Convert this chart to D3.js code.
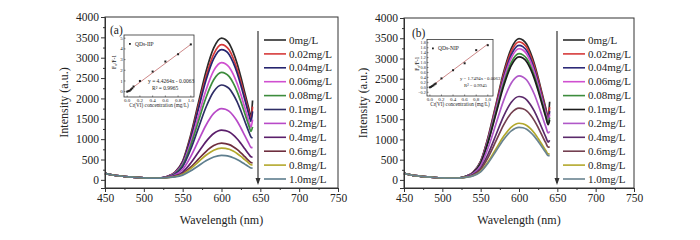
<!DOCTYPE html>
<html><head><meta charset="utf-8">
<script src="https://cdn.jsdelivr.net/npm/d3@7"></script>
<style>
body{margin:0;background:#fff;}
text{font-family:"Liberation Serif","Times New Roman",serif;fill:#222;}
</style></head>
<body><svg id="c" width="700" height="240"></svg>
<script>
// ---------- data ----------
const wavelengths = [450,460,470,480,490,500,510,520,530,540,550,560,570,580,590,600,605,610,615,620,625,630,635,638,640];
const concLabels = ["0mg/L","0.02mg/L","0.04mg/L","0.06mg/L","0.08mg/L","0.1mg/L","0.2mg/L","0.4mg/L","0.6mg/L","0.8mg/L","1.0mg/L"];
const xTicks = [450,500,550,600,650,700,750];
const yTicks = [0,500,1000,1500,2000,2500,3000,3500,4000];

const seriesA = [
 [160,120,95,75,60,50,45,45,84,187,462,1079,1868,2657,3240,3480,3446,3343,3137,2863,2520,2142,1765,1559,1950],
 [160,120,95,75,60,50,45,45,83,181,442,1031,1783,2535,3091,3320,3287,3189,2993,2731,2404,2045,1685,1489,1800],
 [160,120,95,75,60,50,45,45,82,176,428,995,1720,2444,2980,3200,3169,3074,2885,2633,2318,1972,1625,1436,1680],
 [160,120,95,75,60,50,45,45,78,163,390,899,1550,2201,2682,2880,2852,2767,2597,2371,2088,1776,1465,1295,1480],
 [160,120,95,75,60,50,45,45,76,154,361,827,1423,2018,2459,2640,2614,2536,2381,2174,1915,1630,1345,1190,1300],
 [160,120,95,75,60,50,45,45,73,141,324,734,1258,1783,2170,2330,2307,2239,2102,1920,1692,1441,1190,1053,1030],
 [160,120,95,75,60,50,45,45,67,118,254,560,951,1342,1631,1750,1733,1682,1580,1444,1274,1087,900,798,790],
 [160,120,95,75,60,50,45,45,62,97,190,401,670,939,1138,1220,1208,1173,1103,1009,892,764,635,565,555],
 [160,120,95,75,60,50,45,45,59,84,152,305,501,696,841,900,892,866,815,747,662,569,475,424,415],
 [160,120,95,75,60,50,45,45,57,79,138,269,437,605,729,780,773,751,707,649,576,495,415,371,365],
 [160,120,95,75,60,50,45,45,56,72,116,215,342,468,562,600,595,578,545,501,446,386,325,292,288]
];
const seriesB = [
 [160,120,95,75,60,50,45,45,84,188,463,1082,1873,2664,3249,3490,3456,3352,3146,2871,2527,2148,1770,1564,1930],
 [160,120,95,75,60,50,45,45,84,184,453,1058,1831,2604,3175,3410,3376,3276,3074,2805,2469,2100,1730,1528,1800],
 [160,120,95,75,60,50,45,45,83,181,443,1033,1786,2539,3096,3325,3292,3194,2998,2736,2408,2048,1688,1491,1700],
 [160,120,95,75,60,50,45,45,82,178,433,1007,1741,2474,3017,3240,3208,3112,2921,2666,2347,1996,1645,1454,1620],
 [160,120,95,75,60,50,45,45,81,173,418,971,1677,2383,2905,3120,3089,2997,2813,2567,2260,1923,1585,1401,1540],
 [160,120,95,75,60,50,45,45,80,170,409,947,1635,2322,2831,3040,3010,2920,2741,2502,2203,1874,1545,1366,1480],
 [160,120,95,75,60,50,45,45,75,151,352,806,1386,1965,2394,2570,2545,2469,2318,2116,1864,1587,1310,1159,1200],
 [160,120,95,75,60,50,45,45,70,130,291,653,1115,1578,1919,2060,2040,1980,1859,1698,1497,1276,1055,934,980],
 [160,120,95,75,60,50,45,45,67,119,257,568,964,1361,1654,1775,1758,1706,1603,1465,1292,1102,913,809,820],
 [160,120,95,75,60,50,45,45,64,104,212,455,766,1076,1306,1400,1387,1346,1265,1157,1022,874,725,644,640],
 [160,120,95,75,60,50,45,45,63,100,200,425,713,1000,1213,1300,1288,1250,1175,1075,950,813,675,600,600]
];
const colorsA = ["#2b2b2b","#d63a3a","#25246e","#d050d0","#3d8c3d","#2e2d66","#b84ac8","#5b1f6b","#6e2e3e","#b3a82c","#5e7e8e"];
const colorsB = ["#2b2b2b","#d63a3a","#2d2a78","#d050d0","#3d8c3d","#1c1c1c","#b058c8","#5b2a6b","#744050","#b3a82c","#6a8490"];

// insets
const insetX = [0,0.02,0.04,0.06,0.08,0.1,0.2,0.4,0.6,0.8,1.0];
const insetYA = [0,0.05,0.09,0.2,0.31,0.48,1.0,1.88,2.82,3.5,4.42];
const insetYB = [0,0.02,0.05,0.08,0.12,0.15,0.36,0.69,0.97,1.5,1.7];
const fitXA = [0,1.0], fitYA = [-0.0063,4.4201];
const fitXB = [0,1.0], fitYB = [-0.0063,1.7431];
const insetXTicks = [0,0.2,0.4,0.6,0.8,1.0];
const insetYTicksA = [0,1,2,3,4,5];
const insetYTicksB = [-0.2,0,0.2,0.4,0.6,0.8,1.0,1.2,1.4,1.6,1.8];

const svg = d3.select("#c");

function drawPanel(o){
  const g = svg.append("g");
  const x = d3.scaleLinear().domain([450,750]).range([o.x0,o.x1]);
  const y = d3.scaleLinear().domain([-200,4000]).range([o.yb,o.yt]);
  // curves
  const line = d3.line().x((d,i)=>x(wavelengths[i])).y(d=>y(d)).curve(d3.curveMonotoneX);
  o.series.forEach((s,i)=>{
    g.append("path").attr("d",line(s)).attr("fill","none").attr("stroke",o.colors[i]).attr("stroke-width",1.7);
  });
  // axes
  const xa = g.append("g").attr("transform",`translate(0,${o.yb})`)
    .call(d3.axisBottom(x).tickValues(xTicks).tickSize(4).tickPadding(2).tickFormat(d3.format("d")));
  g.append("g").attr("transform",`translate(0,${o.yb})`)
    .call(d3.axisBottom(x).tickValues(d3.range(475,750,50)).tickSize(2).tickFormat(""))
    .call(a=>a.select(".domain").remove());
  const ya = g.append("g").attr("transform",`translate(${o.x0},0)`)
    .call(d3.axisLeft(y).tickValues(yTicks).tickSize(4).tickPadding(2).tickFormat(d3.format("d")));
  g.append("g").attr("transform",`translate(${o.x0},0)`)
    .call(d3.axisLeft(y).tickValues(d3.range(250,4000,500)).tickSize(2).tickFormat(""))
    .call(a=>a.select(".domain").remove());
  [xa,ya].forEach(a=>{
    a.selectAll("text").style("font-family","Liberation Serif").style("font-size","11.5px").attr("fill","#222");
    a.selectAll("line,path").attr("stroke","#333");
  });
  g.selectAll(".tick line").attr("stroke","#333");
  g.append("rect").attr("x",o.x0).attr("y",o.yt).attr("width",o.x1-o.x0).attr("height",o.yb-o.yt)
    .attr("fill","none").attr("stroke","#333").attr("stroke-width",1);
  // titles
  g.append("text").attr("x",(o.x0+o.x1)/2).attr("y",224).attr("text-anchor","middle")
    .style("font-size","12px").text("Wavelength (nm)");
  g.append("text").attr("transform",`translate(${o.x0-37},${(o.yt+o.yb)/2}) rotate(-90)`)
    .attr("text-anchor","middle").style("font-size","12px").text("Intensity (a.u.)");
  g.append("text").attr("x",o.labX).attr("y",o.labY).style("font-size","11.5px").text(o.label);
  // legend
  const lg = g.append("g");
  lg.append("line").attr("x1",o.arrowX).attr("x2",o.arrowX).attr("y1",31).attr("y2",183)
    .attr("stroke","#333").attr("stroke-width",1.2);
  lg.append("path").attr("d",`M${o.arrowX-2.5},${178}L${o.arrowX+2.5},${178}L${o.arrowX},${185}Z`).attr("fill","#333");
  concLabels.forEach((t,i)=>{
    const yy = 40 + i*13.9;
    lg.append("line").attr("x1",o.legX).attr("x2",o.legX+22).attr("y1",yy).attr("y2",yy)
      .attr("stroke",o.colors[i]).attr("stroke-width",1.6);
    lg.append("text").attr("x",o.legX+25).attr("y",yy+3.6).style("font-size","11px").text(t);
  });
  // inset
  const ig = g.append("g");
  const ix = d3.scaleLinear().domain(o.ixd).range([o.ibx0,o.ibx1]);
  const iy = d3.scaleLinear().domain(o.iyd).range([o.iby1,o.iby0]);
  ig.append("rect").attr("x",o.ibx0).attr("y",o.iby0).attr("width",o.ibx1-o.ibx0).attr("height",o.iby1-o.iby0)
    .attr("fill","#fff").attr("stroke","#333").attr("stroke-width",0.8);
  insetXTicks.forEach(t=>{
    ig.append("line").attr("x1",ix(t)).attr("x2",ix(t)).attr("y1",o.iby1).attr("y2",o.iby1-1.5).attr("stroke","#333").attr("stroke-width",0.6);
    ig.append("text").attr("x",ix(t)).attr("y",o.iby1+4.8).attr("text-anchor","middle").style("font-size","5px").text(d3.format(".1f")(t));
  });
  o.iyt.forEach(t=>{
    ig.append("line").attr("x1",o.ibx0).attr("x2",o.ibx0+1.5).attr("y1",iy(t)).attr("y2",iy(t)).attr("stroke","#333").attr("stroke-width",0.6);
    ig.append("text").attr("x",o.ibx0-1.2).attr("y",iy(t)+1.6).attr("text-anchor","end").style("font-size",o.iyfs).text(o.iyfmt(t));
  });
  ig.append("text").attr("x",(o.ibx0+o.ibx1)/2).attr("y",o.iby1+9.5).attr("text-anchor","middle")
    .style("font-size","5.2px").text("Cr(VI) concentration (mg/L)");
  ig.append("text").attr("transform",`translate(${o.ibx0-8},${(o.iby0+o.iby1)/2-4}) rotate(-90)`)
    .attr("text-anchor","middle").style("font-size","5.5px").text("F\u2080/F-1");
  ig.append("line").attr("x1",ix(o.fx[0])).attr("x2",ix(o.fx[1])).attr("y1",iy(o.fy[0])).attr("y2",iy(o.fy[1]))
    .attr("stroke","#c77a7a").attr("stroke-width",0.9);
  o.iy.forEach((v,i)=>{
    ig.append("rect").attr("x",ix(insetX[i])-1).attr("y",iy(v)-1).attr("width",2).attr("height",2).attr("fill","#222");
  });
  ig.append("rect").attr("x",o.ibx0+5).attr("y",o.iby0+8).attr("width",1.8).attr("height",1.8).attr("fill","#222");
  ig.append("text").attr("x",o.ibx0+11).attr("y",o.iby0+10.5).style("font-size","5.5px").text(o.iname);
  ig.append("text").attr("x",o.eqX).attr("y",o.eqY).style("font-size",o.eqfs).text(o.eq);
  ig.append("text").attr("x",o.eqX+4).attr("y",o.eqY+6.5).style("font-size",o.eqfs).text(o.r2);
}

drawPanel({x0:105,x1:338,yt:17,yb:188,series:seriesA,colors:colorsA,label:"(a)",labX:110,labY:34,
  arrowX:258,legX:264,
  ibx0:124,ibx1:194,iby0:35,iby1:97,ixd:[-0.05,1.05],iyd:[-0.5,5.3],iyt:insetYTicksA,iyfs:"5px",iyfmt:d3.format("d"),
  iy:insetYA,fx:fitXA,fy:fitYA,iname:"QDs-IIP",eq:"y = 4.4264x - 0.0063",r2:"R\u00b2 = 0.9965",eqX:148,eqY:83,eqfs:"5.5px"});
drawPanel({x0:404,x1:634,yt:18,yb:188,series:seriesB,colors:colorsB,label:"(b)",labX:412,labY:37,
  arrowX:557,legX:563,
  ibx0:427,ibx1:493,iby0:39.5,iby1:96,ixd:[-0.05,1.09],iyd:[-0.35,1.93],iyt:insetYTicksB,iyfs:"4.2px",iyfmt:d3.format(".1f"),
  iy:insetYB,fx:fitXB,fy:fitYB,iname:"QDs-NIP",eq:"y = 1.7494x - 0.0063",r2:"R\u00b2 = 0.9945",eqX:460,eqY:80,eqfs:"4.8px"});
</script></body></html>
